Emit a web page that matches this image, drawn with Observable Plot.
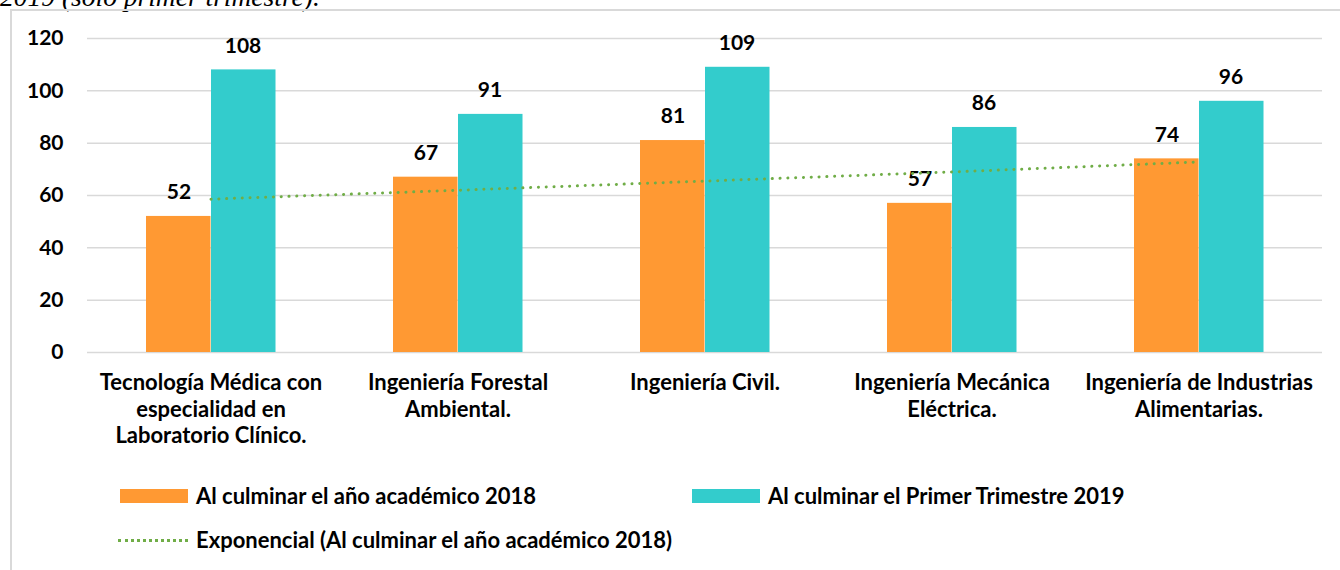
<!DOCTYPE html>
<html>
<head>
<meta charset="utf-8">
<script src="https://cdn.jsdelivr.net/npm/d3@7"></script>
<script src="https://cdn.jsdelivr.net/npm/@observablehq/plot@0.6"></script>
<style>
  html, body { margin: 0; padding: 0; background: #fff; }
  body { width: 1340px; height: 570px; position: relative; overflow: hidden; font-family: Lato, sans-serif; }
  #title { position: absolute; left: 0; top: -17px; font-family: "Liberation Serif", serif; font-style: italic; font-size: 27.5px; line-height: 27px; white-space: nowrap; color: #000; }
  #frame { position: absolute; left: 10px; top: 9px; width: 1340px; height: 570px; border-left: 2px solid #D9D9D9; border-top: 2px solid #D9D9D9; box-sizing: border-box; }
  #chart { position: absolute; left: 0; top: 0; }
  .legend { position: absolute; font-family: Lato, sans-serif; font-weight: bold; font-size: 22px; line-height: 26px; color: #000; white-space: nowrap; display: flex; align-items: center; }
  .sw { display: inline-block; width: 68px; height: 14px; margin-right: 8px; }
  .dotline { display: inline-block; width: 70px; height: 0; border-top: 3px dotted #70AD47; margin-right: 8px; }
</style>
</head>
<body>
<div id="title">2019 (solo primer trimestre).</div>
<div id="frame"></div>
<div id="chart"></div>
<div class="legend" id="leg1" style="left:120px; top:483px;"></div>
<div class="legend" id="leg2" style="left:692px; top:483px;"></div>
<div class="legend" id="leg3" style="left:118px; top:527px;"></div>
<script>
const categories = [
  "Tecnología Médica con especialidad en Laboratorio Clínico.",
  "Ingeniería Forestal Ambiental.",
  "Ingeniería Civil.",
  "Ingeniería Mecánica Eléctrica.",
  "Ingeniería de Industrias Alimentarias."
];
const categoryLabels = [
  "Tecnología Médica con\nespecialidad en\nLaboratorio Clínico.",
  "Ingeniería Forestal\nAmbiental.",
  "Ingeniería Civil.",
  "Ingeniería Mecánica\nEléctrica.",
  "Ingeniería de Industrias\nAlimentarias."
];
const values2018 = [52, 67, 81, 57, 74];
const values2019 = [108, 91, 109, 86, 96];
const trend2018 = [58.6, 62.0, 65.5, 69.0, 72.8];
const yTicks = [0, 20, 40, 60, 80, 100, 120];
const seriesNames = [
  "Al culminar el año académico 2018",
  "Al culminar el Primer Trimestre 2019",
  "Exponencial (Al culminar el año académico 2018)"
];
const colors = ["#FF9933", "#33CCCC", "#70AD47"];

const d2018 = categories.map((c, i) => ({cat: c, value: values2018[i]}));
const d2019 = categories.map((c, i) => ({cat: c, value: values2019[i]}));
const dTrend = categories.map((c, i) => ({cat: c, value: trend2018[i]}));

const chart = Plot.plot({
  width: 1340,
  height: 460,
  marginLeft: 87,
  marginRight: 18,
  marginTop: 38,
  marginBottom: 108,
  style: {fontFamily: "Lato, sans-serif", fontWeight: "bold", fontSize: "21px", color: "#000", background: "transparent"},
  x: {type: "band", domain: categories, padding: 0},
  y: {domain: [0, 120]},
  marks: [
    Plot.gridY(yTicks, {stroke: "#D9D9D9", strokeOpacity: 1, strokeWidth: 1.5}),
    Plot.axisY({ticks: yTicks, tickSize: 0, tickPadding: 24, label: null, fontSize: 21}),
    Plot.axisX({tickSize: 0, tickPadding: 19, label: null, fontSize: 22, lineHeight: 1.2,
      tickFormat: (d) => categoryLabels[categories.indexOf(d)]}),
    Plot.barY(d2018, {x: "cat", y: "value", fill: colors[0], insetLeft: 59, insetRight: 123.5}),
    Plot.barY(d2019, {x: "cat", y: "value", fill: colors[1], insetLeft: 124, insetRight: 58.5}),
    Plot.text(d2018, {x: "cat", y: "value", text: "value", dx: -32, dy: -24, fontSize: 21, fill: "#000"}),
    Plot.text(d2019, {x: "cat", y: "value", text: "value", dx: 32, dy: -24, fontSize: 21, fill: "#000"}),
    Plot.line(dTrend, {x: "cat", y: "value", stroke: colors[2], strokeWidth: 3, strokeDasharray: "0.1 7.7", strokeLinecap: "round"})
  ]
});
document.getElementById("chart").appendChild(chart);

document.getElementById("leg1").innerHTML = `<span class="sw" style="background:${colors[0]}"></span>${seriesNames[0]}`;
document.getElementById("leg2").innerHTML = `<span class="sw" style="background:${colors[1]}"></span>${seriesNames[1]}`;
document.getElementById("leg3").innerHTML = `<span class="dotline" style="border-top-color:${colors[2]}"></span>${seriesNames[2]}`;
</script>
</body>
</html>
